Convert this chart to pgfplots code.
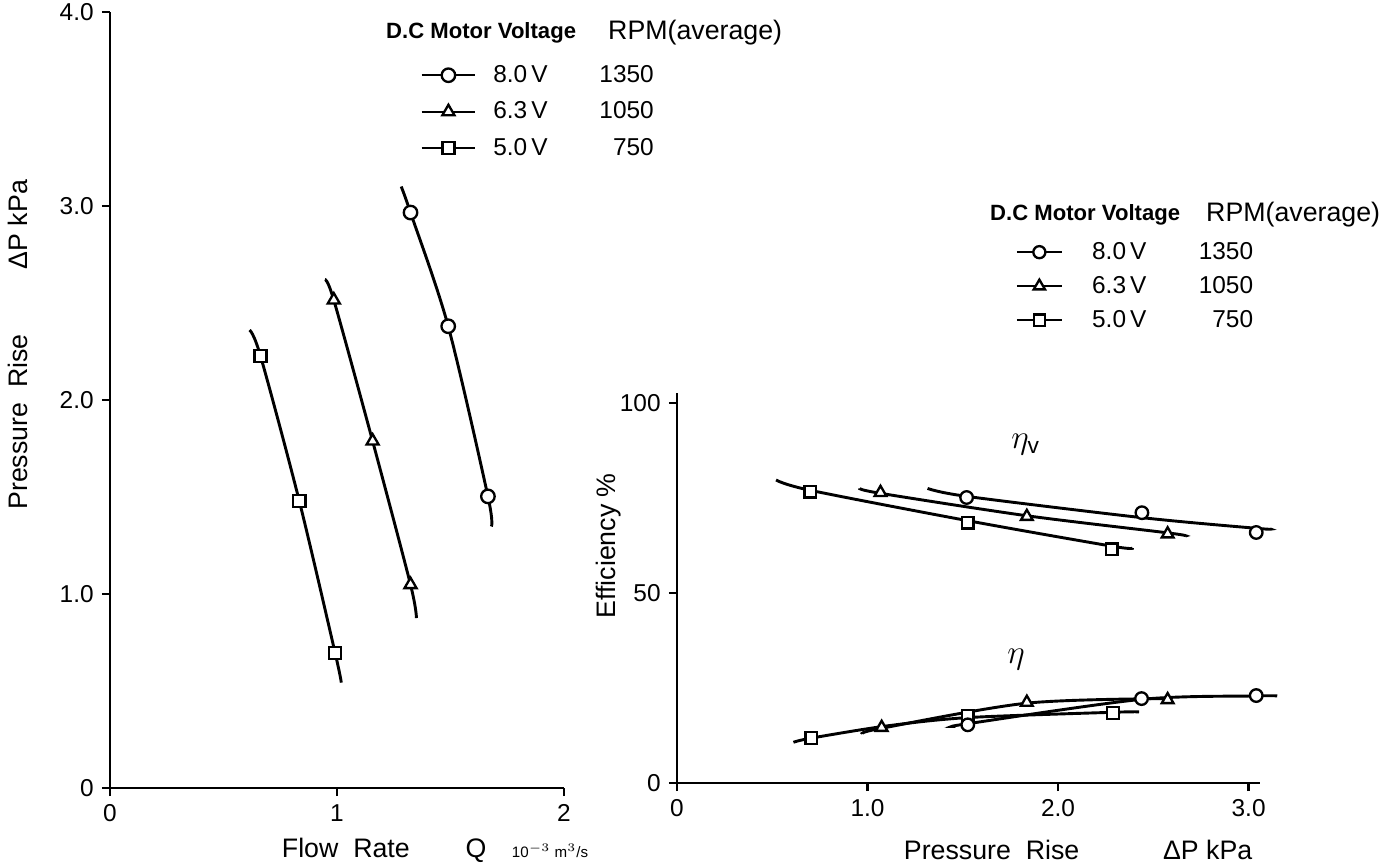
\documentclass[border=0pt]{standalone}
\usepackage{fontspec}
\setmainfont{Liberation Sans}
\usepackage{pgfplots}
\pgfplotsset{compat=1.18}

% pixel position of the reference -> picture coordinates
\newcommand\px[2]{({(#1)*0.43pt},{(865-(#2))*0.43pt})}

\pgfplotsset{
  fig/.style={
    scale only axis, axis x line*=bottom, axis y line*=left,
    axis line style={line width=1.25pt,-}, tick style={line width=1.1pt,black},
    tick align=outside, major tick length=3.5pt,
    ticklabel style={font=\fontsize{10.5}{12}\selectfont},
    /pgf/number format/assume math mode=true,
    label style={font=\fontsize{11.5}{13}\selectfont},
    clip=false, legend columns=2, legend cell align=left,
    legend style={draw=none, fill=none, inner sep=0pt,
      font=\fontsize{10.5}{12}\selectfont,
      nodes={inner sep=0pt, text height=8pt, text depth=2pt},
      /tikz/every odd column/.append style={column sep=7.3pt},
      /tikz/every even column/.append style={column sep=15pt}},
  },
  crv/.style={black, line width=1.25pt, smooth, no marks, forget plot},
  pts/.style={black, only marks, mark options={fill=white, line width=1pt, solid}, forget plot},
}

\begin{document}
\begin{tikzpicture}
\useasboundingbox \px{0}{865} rectangle \px{1391}{0};

% ---------------- left: pressure rise vs flow rate
\begin{axis}[fig, at={(47.3pt,33.11pt)}, anchor=south west,
  width=195.2pt, height=333.7pt,
  xmin=0, xmax=2, ymin=0, ymax=4,
  xtick={0,1,2}, xticklabels={0,1,2},
  ytick={0,1,2,3,4}, yticklabels={0,1.0,2.0,3.0,4.0},
  xlabel={Flow\ \ Rate\hspace{24pt}Q\hspace{11pt}{\fontsize{6.5}{7}\selectfont 10$^{-3}$ m$^{3}$/s}},
  xlabel style={at={(axis description cs:0.716,-0.080)}, anchor=center},
  ylabel={Pressure\ \ Rise\hspace{28pt}ΔP\ kPa},
  ylabel style={at={(axis description cs:-0.203,0.571)}, anchor=center},
  legend image code/.code={\draw[mark repeat=2,mark phase=2,line width=1pt]
    plot coordinates {(0pt,0pt) (11.5pt,0pt) (23pt,0pt)};},
  legend style={at={(axis description cs:0.683,0.934)}, anchor=north west, row sep=5.7pt},
]
% fitted curves
\addplot[crv] coordinates {(0.615,2.36) (0.663,2.227) (0.834,1.479) (0.992,0.695) (1.019,0.543)};
\addplot[crv] coordinates {(0.947,2.62) (0.986,2.515) (1.157,1.788) (1.324,1.048) (1.350,0.876)};
\addplot[crv] coordinates {(1.283,3.10) (1.324,2.966) (1.490,2.380) (1.665,1.503) (1.680,1.348)};
% measured points
\addplot[pts, mark=square*, mark size=2.6pt] coordinates {(0.663,2.227) (0.834,1.479) (0.992,0.695)};
\addplot[pts, mark=triangle*, mark size=3.0pt] coordinates {(0.986,2.515) (1.157,1.788) (1.324,1.048)};
\addplot[pts, mark=*, mark size=2.9pt] coordinates {(1.324,2.966) (1.490,2.380) (1.665,1.503)};

\addlegendimage{black, mark=*, mark size=2.9pt, mark options={fill=white}}
\addlegendentry{8.0\,V}
\addlegendimage{empty legend}
\addlegendentry{1350}
\addlegendimage{black, mark=triangle*, mark size=3pt, mark options={fill=white}}
\addlegendentry{6.3\,V}
\addlegendimage{empty legend}
\addlegendentry{1050}
\addlegendimage{black, mark=square*, mark size=2.6pt, mark options={fill=white}}
\addlegendentry{5.0\,V}
\addlegendimage{empty legend}
\addlegendentry{\hphantom{1}750}
\end{axis}

% ---------------- right: efficiency vs pressure rise
\begin{axis}[fig, at={(291.11pt,35.26pt)}, anchor=south west,
  width=250.7pt, height=167.7pt,
  xmin=0, xmax=3.06, ymin=0, ymax=102.6,
  xtick={0,1,2,3}, xticklabels={0,1.0,2.0,3.0},
  ytick={0,50,100}, yticklabels={0,50,100},
  xlabel={Pressure\ \ Rise\hspace{36pt}ΔP\ kPa},
  xlabel style={at={(axis description cs:0.688,-0.172)}, anchor=center},
  ylabel={Efficiency\ \%},
  ylabel style={at={(axis description cs:-0.118,0.608)}, anchor=center},
  legend image code/.code={\draw[mark repeat=2,mark phase=2,line width=1pt]
    plot coordinates {(0pt,0pt) (9.7pt,0pt) (19.4pt,0pt)};},
  legend style={at={(axis description cs:0.580,1.392)}, anchor=north west, row sep=4.6pt,
    /tikz/every odd column/.append style={column sep=12.5pt},
    /tikz/every even column/.append style={column sep=10pt}},
]
% volumetric efficiency
\addplot[crv] coordinates {(0.52,79.7) (0.699,77.0) (1.526,69.0) (2.282,62.3) (2.39,61.8)};
\addplot[crv] coordinates {(0.959,77.5) (1.068,76.2) (1.836,70.3) (2.575,65.8) (2.67,65.0)};
\addplot[crv] coordinates {(1.315,77.5) (1.52,75.4) (2.44,69.8) (3.04,67.0) (3.115,66.8)};
% overall efficiency
\addplot[crv] coordinates {(0.611,10.7) (0.704,11.8) (1.10,15.0) (1.526,17.2) (2.288,18.6) (2.425,18.7)};
\addplot[crv] coordinates {(0.973,13.0) (1.074,14.4) (1.836,21.0) (2.575,22.2)};
\addplot[crv] coordinates {(1.46,14.9) (1.526,15.6) (2.438,22.0) (3.04,22.9) (3.15,22.9)};
% measured points
\addplot[pts, mark=square*, mark size=2.5pt] coordinates {(0.699,76.6) (1.526,68.5) (2.282,61.5) (0.704,11.8) (1.526,17.7) (2.288,18.4)};
\addplot[pts, mark=triangle*, mark size=2.9pt] coordinates {(1.068,76.4) (1.836,70.1) (2.575,65.5) (1.074,14.6) (1.836,21.2) (2.575,21.9)};
\addplot[pts, mark=*, mark size=2.7pt] coordinates {(1.52,75.1) (2.44,71.1) (3.04,65.9) (1.526,15.3) (2.438,22.2) (3.04,23.0)};

\node[font=\fontsize{14}{16}\selectfont] at (axis cs:1.83,89) {$\eta_{\mathrm{v}}$};
\node[font=\fontsize{14}{16}\selectfont] at (axis cs:1.78,32.4) {$\eta$};

\addlegendimage{black, mark=*, mark size=2.6pt, mark options={fill=white}}
\addlegendentry{8.0\,V}
\addlegendimage{empty legend}
\addlegendentry{1350}
\addlegendimage{black, mark=triangle*, mark size=2.8pt, mark options={fill=white}}
\addlegendentry{6.3\,V}
\addlegendimage{empty legend}
\addlegendentry{1050}
\addlegendimage{black, mark=square*, mark size=2.4pt, mark options={fill=white}}
\addlegendentry{5.0\,V}
\addlegendimage{empty legend}
\addlegendentry{\hphantom{1}750}
\end{axis}

% legend headings
\node[anchor=west, font=\bfseries\fontsize{9.5}{12}\selectfont] at \px{378}{33} {D.C Motor Voltage};
\node[anchor=west, font=\fontsize{11.5}{13}\selectfont] at \px{600}{33} {RPM(average)};
\node[anchor=west, font=\bfseries\fontsize{9.5}{12}\selectfont] at \px{982}{215} {D.C Motor Voltage};
\node[anchor=west, font=\fontsize{11.5}{13}\selectfont] at \px{1198}{215} {RPM(average)};
\end{tikzpicture}
\end{document}
